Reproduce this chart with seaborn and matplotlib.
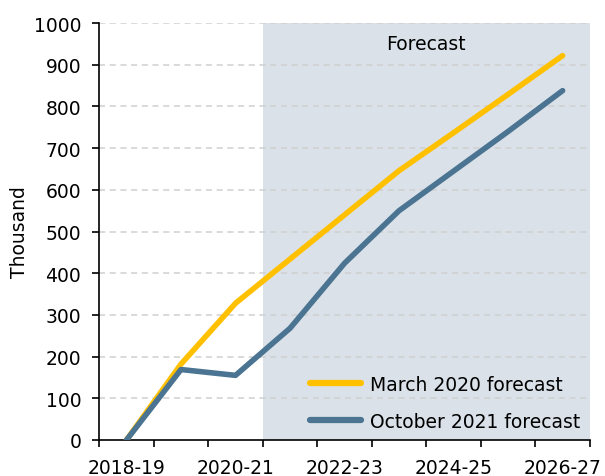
import numpy as np
import pandas as pd
import matplotlib
matplotlib.use("Agg")
import matplotlib.pyplot as plt
import seaborn as sns

years = ["2018-19", "2019-20", "2020-21", "2021-22", "2022-23",
         "2023-24", "2024-25", "2025-26", "2026-27"]
march_2020 = [0, 182, 328, 434, 540, 646, 737, 829, 922]
october_2021 = [0, 169, 155, 268, 424, 550, 645, 740, 838]
series_names = ["March 2020 forecast", "October 2021 forecast"]
forecast_start = "2021-22"

df = pd.DataFrame({
    "pos": list(range(len(years))) * 2,
    "value": march_2020 + october_2021,
    "series": [series_names[0]] * len(years) + [series_names[1]] * len(years),
})

sns.set_style("white")
plt.rcParams["font.family"] = ["DejaVu Sans"]
plt.rcParams["text.color"] = "black"
plt.rcParams["xtick.color"] = "black"
plt.rcParams["ytick.color"] = "black"
plt.rcParams["axes.labelcolor"] = "black"

fs_txt = 13.5

fig = plt.figure(figsize=(6.05, 4.77), dpi=100)
ax = fig.add_axes([0.164, 0.0755, 0.811, 0.874])

# forecast shading from the boundary before the first forecast year
fs = years.index(forecast_start) - 0.5
ax.axvspan(fs, len(years) - 0.5, color="#DAE1E8", zorder=0, lw=0)
ax.text((fs + len(years) - 0.5) / 2, 950, "Forecast", ha="center", va="center", fontsize=fs_txt)

sns.lineplot(data=df, x="pos", y="value", hue="series",
             palette=["#FFC000", "#4A7491"], linewidth=4, ax=ax,
             solid_capstyle="round", zorder=3)

ax.set_xlim(-0.5, len(years) - 0.5)
ax.set_ylim(0, 1000)
ax.set_yticks(np.arange(0, 1001, 100))
for y in range(100, 1001, 100):
    ax.axhline(y, color="#D0D0D0", lw=1.1, ls=(0, (4, 3)), zorder=1)

ax.set_xticks(np.arange(-0.5, len(years), 1))
ax.set_xticklabels([])
ax.set_xticks(range(0, len(years), 2), minor=True)
ax.set_xticklabels(years[::2], minor=True)
ax.tick_params(axis="x", which="major", length=5, width=1.2, direction="out")
ax.tick_params(axis="x", which="minor", length=0, pad=13, labelsize=fs_txt)
ax.tick_params(axis="y", length=5, width=1.2, direction="out", labelsize=fs_txt, pad=8)
ax.xaxis.set_ticks_position("bottom")
ax.yaxis.set_ticks_position("left")

ax.set_xlabel("")
ax.set_ylabel("Thousand", fontsize=fs_txt, labelpad=3)

for s in ["top", "right"]:
    ax.spines[s].set_visible(False)
for s in ["left", "bottom"]:
    ax.spines[s].set_color("black")
    ax.spines[s].set_linewidth(1.2)

leg = ax.legend(loc="lower right", frameon=False, fontsize=fs_txt, handlelength=2.7,
                handletextpad=0.5, labelspacing=0.95, borderaxespad=0.3, borderpad=0.2,
                bbox_to_anchor=(1.0, 0.0))
for line in leg.get_lines():
    line.set_linewidth(4.5)
    line.set_solid_capstyle("round")

fig.savefig("out.png", dpi=100)
